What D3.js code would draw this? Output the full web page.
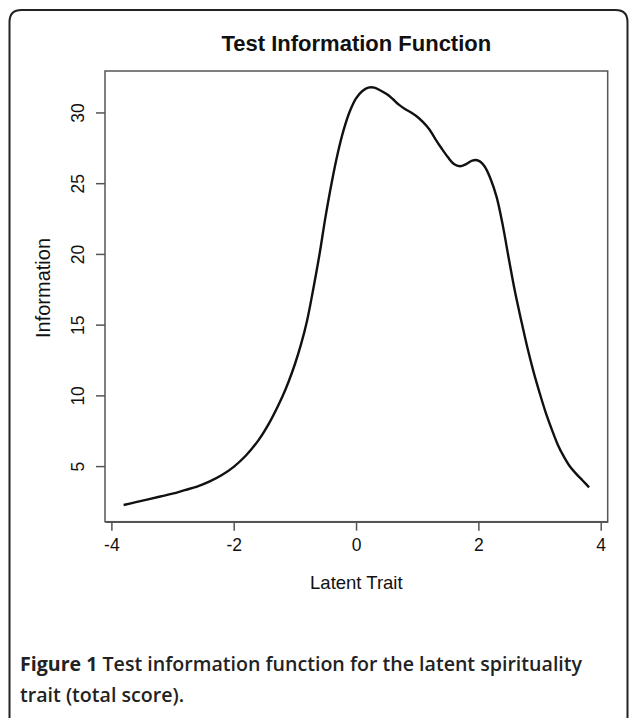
<!DOCTYPE html>
<html><head><meta charset="utf-8">
<script src="https://cdn.jsdelivr.net/npm/d3@7"></script>
<style>html,body{margin:0;padding:0;background:#fff;}svg{display:block;}</style>
</head><body>
<svg id="c" width="629" height="718"></svg>
<script>
// Data
const theta = [-3.8,-3.6,-3.4,-3.2,-3.0,-2.8,-2.6,-2.4,-2.2,-2.0,-1.8,-1.6,-1.4,-1.2,-1.1,-1.0,-0.9,-0.8,-0.7,-0.6,-0.5,-0.4,-0.3,-0.2,-0.1,0.0,0.1,0.2,0.3,0.4,0.5,0.6,0.7,0.8,0.9,1.0,1.1,1.2,1.3,1.4,1.5,1.6,1.7,1.8,1.9,2.0,2.1,2.2,2.3,2.4,2.5,2.6,2.7,2.8,2.9,3.0,3.1,3.2,3.3,3.4,3.5,3.6,3.7,3.81];
const information = [2.25,2.45,2.65,2.85,3.05,3.3,3.55,3.9,4.35,4.95,5.75,6.8,8.2,9.95,11.0,12.2,13.6,15.3,17.5,19.9,22.6,25.0,27.1,28.8,30.1,31.0,31.5,31.75,31.75,31.55,31.3,30.95,30.55,30.25,30.0,29.7,29.3,28.8,28.1,27.45,26.85,26.35,26.2,26.35,26.6,26.6,26.2,25.3,24.0,22.0,19.6,17.3,15.3,13.4,11.7,10.2,8.8,7.6,6.5,5.65,4.95,4.45,4.0,3.5];
const xTicks = [-4,-2,0,2,4];
const yTicks = [5,10,15,20,25,30];
const title = "Test Information Function";
const xLabel = "Latent Trait";
const yLabel = "Information";

const svg = d3.select("#c");
const W = 629, H = 718;
const box = {l:105, r:607.7, t:71, b:521.7};
const font = "Liberation Sans, Arial, sans-serif";

// outer frame (rounded top corners, open at bottom)
const fl = 9.5, fr = 627.5, ft = 10, rad = 12;
svg.append("path")
  .attr("d", `M${fl},${H} L${fl},${ft+rad} Q${fl},${ft} ${fl+rad},${ft} L${fr-rad},${ft} Q${fr},${ft} ${fr},${ft+rad} L${fr},${H}`)
  .attr("fill","none").attr("stroke","#222").attr("stroke-width",2);

// R-style 4% extension
const xr = d3.extent(theta), yr = d3.extent(information);
const xpad = (xr[1]-xr[0])*0.04, ypad=(yr[1]-yr[0])*0.04;
const x = d3.scaleLinear().domain([xr[0]-xpad, xr[1]+xpad]).range([box.l, box.r]);
const y = d3.scaleLinear().domain([yr[0]-ypad, yr[1]+ypad]).range([box.b, box.t]);

const axCol = "#555";
svg.append("rect").attr("x",box.l).attr("y",box.t).attr("width",box.r-box.l).attr("height",box.b-box.t)
  .attr("fill","none").attr("stroke",axCol).attr("stroke-width",1.5);

// x axis
const xa = svg.append("g").attr("transform",`translate(0,${box.b})`)
  .call(d3.axisBottom(x).tickValues(xTicks).tickSize(9).tickSizeOuter(0).tickPadding(8));
xa.select(".domain").attr("stroke",axCol).attr("stroke-width",1.5);
xa.selectAll(".tick line").attr("stroke",axCol).attr("stroke-width",1.5);
xa.selectAll(".tick text").attr("font-family",font).attr("font-size",17.5).attr("fill","#111")
  .text(d=>d<0?"-"+Math.abs(d):d);

// y axis
const ya = svg.append("g").attr("transform",`translate(${box.l},0)`)
  .call(d3.axisLeft(y).tickValues(yTicks).tickSize(9).tickSizeOuter(0));
ya.select(".domain").remove();
ya.selectAll(".tick line").attr("stroke",axCol).attr("stroke-width",1.5);
ya.selectAll(".tick text").attr("font-family",font).attr("font-size",17.5).attr("fill","#111")
  .attr("x",0).attr("dy",0).attr("text-anchor","middle")
  .attr("transform","translate(-21,0) rotate(-90)");

// curve
const pts = theta.map((t,i)=>[t, information[i]]);
svg.append("path").datum(pts)
  .attr("d", d3.line().x(d=>x(d[0])).y(d=>y(d[1])).curve(d3.curveCatmullRom.alpha(0.5)))
  .attr("fill","none").attr("stroke","#111").attr("stroke-width",2.4).attr("stroke-linejoin","round");

// title
svg.append("text").attr("x",(box.l+box.r)/2).attr("y",51).attr("text-anchor","middle")
  .attr("font-family",font).attr("font-weight","bold").attr("font-size",22).attr("fill","#111")
  .text(title);
// axis labels
svg.append("text").attr("x",(box.l+box.r)/2).attr("y",589).attr("text-anchor","middle")
  .attr("font-family",font).attr("font-size",18.5).attr("fill","#111").text(xLabel);
svg.append("text").attr("transform",`translate(50,288) rotate(-90)`).attr("text-anchor","middle")
  .attr("font-family",font).attr("font-size",20).attr("fill","#111").text(yLabel);

// caption
const cap = svg.append("text").attr("font-family","Open Sans, Noto Sans, sans-serif").attr("font-size",19.6).attr("fill","#222");
const l1 = cap.append("tspan").attr("x",20).attr("y",671);
l1.append("tspan").attr("font-weight","bold").text("Figure 1");
l1.append("tspan").attr("font-weight","600").text(" Test information function for the latent spirituality");
cap.append("tspan").attr("x",20).attr("y",702).attr("font-weight","600").text("trait (total score).");
</script>
</body></html>
